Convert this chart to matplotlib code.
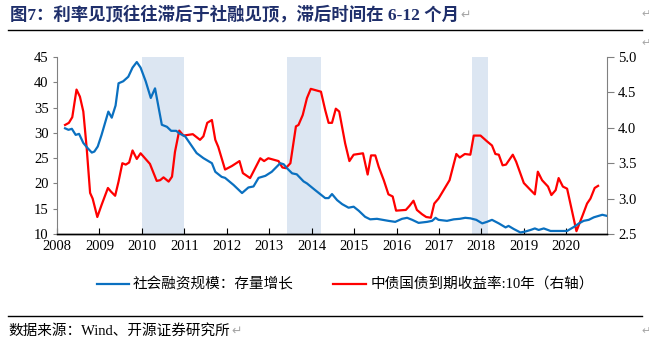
import matplotlib
matplotlib.use("Agg")
import matplotlib.pyplot as plt

plt.rcParams['font.family'] = ['Noto Sans CJK SC', 'DejaVu Sans']

# Social financing stock growth, % (left axis)
tsf_year = [2008.19, 2008.27, 2008.35, 2008.44, 2008.52, 2008.62, 2008.72, 2008.82, 2008.88, 2008.96,
            2009.05, 2009.21, 2009.29, 2009.38, 2009.45, 2009.56, 2009.68, 2009.78, 2009.88, 2009.97,
            2010.09, 2010.21, 2010.31, 2010.47, 2010.59, 2010.69, 2010.81, 2010.88, 2011.02, 2011.29,
            2011.45, 2011.65, 2011.73, 2011.88, 2011.96, 2012.16, 2012.36, 2012.51, 2012.63, 2012.75,
            2012.91, 2013.06, 2013.26, 2013.34, 2013.42, 2013.54, 2013.65, 2013.81, 2013.89, 2014.08,
            2014.32, 2014.40, 2014.48, 2014.60, 2014.72, 2014.87, 2014.99, 2015.11, 2015.26, 2015.38,
            2015.54, 2015.81, 2015.97, 2016.13, 2016.25, 2016.37, 2016.52, 2016.72, 2016.84, 2016.92,
            2016.99, 2017.19, 2017.35, 2017.49, 2017.62, 2017.74, 2017.88, 2018.02, 2018.13, 2018.25,
            2018.41, 2018.57, 2018.64, 2018.76, 2018.92, 2019.04, 2019.16, 2019.26, 2019.35, 2019.47,
            2019.63, 2019.82, 2020.02, 2020.18, 2020.30, 2020.41, 2020.53, 2020.65, 2020.77, 2020.85,
            2020.95]
tsf_growth = [30.9, 30.6, 30.8, 29.6, 29.8, 28.0, 27.0, 26.1, 26.3, 27.3,
              29.6, 34.2, 33.0, 35.4, 39.8, 40.2, 41.1, 42.9, 44.0, 42.9,
              40.2, 36.9, 38.8, 31.6, 31.2, 30.4, 30.4, 29.9, 29.3, 26.0,
              25.0, 24.0, 22.3, 21.3, 21.1, 19.7, 18.1, 19.2, 19.4, 21.1,
              21.5, 22.3, 24.0, 23.8, 23.0, 22.0, 21.8, 20.4, 20.0, 18.7,
              17.1, 17.1, 17.9, 16.7, 15.9, 15.2, 15.4, 14.6, 13.4, 12.9,
              13.0, 12.6, 12.4, 13.0, 13.2, 12.8, 12.2, 12.4, 12.6, 13.2,
              12.8, 12.6, 12.9, 13.0, 13.2, 13.1, 12.8, 12.1, 12.4, 12.8,
              12.1, 11.3, 11.6, 11.0, 10.3, 10.5, 10.8, 11.1, 10.8, 11.1,
              10.6, 10.6, 10.6, 11.4, 12.1, 12.6, 12.8, 13.3, 13.6, 13.8,
              13.6]

# 10-year government bond yield, % (right axis)
bond_year = [2008.19, 2008.28, 2008.36, 2008.46, 2008.54, 2008.62, 2008.70, 2008.78, 2008.84, 2008.95,
             2009.05, 2009.20, 2009.27, 2009.37, 2009.45, 2009.54, 2009.62, 2009.70, 2009.78, 2009.88,
             2009.97, 2010.19, 2010.35, 2010.43, 2010.51, 2010.63, 2010.71, 2010.78, 2010.88, 2010.98,
             2011.20, 2011.37, 2011.45, 2011.54, 2011.65, 2011.73, 2011.80, 2011.96, 2012.12, 2012.30,
             2012.38, 2012.55, 2012.67, 2012.79, 2012.88, 2012.98, 2013.22, 2013.31, 2013.39, 2013.50,
             2013.63, 2013.69, 2013.79, 2013.89, 2013.98, 2014.22, 2014.32, 2014.40, 2014.48, 2014.57,
             2014.65, 2014.79, 2014.89, 2014.99, 2015.21, 2015.32, 2015.40, 2015.50, 2015.58, 2015.70,
             2015.81, 2015.91, 2015.99, 2016.22, 2016.31, 2016.40, 2016.48, 2016.60, 2016.70, 2016.81,
             2016.89, 2016.99, 2017.25, 2017.41, 2017.49, 2017.61, 2017.74, 2017.82, 2017.98, 2018.13,
             2018.25, 2018.33, 2018.41, 2018.50, 2018.58, 2018.74, 2018.82, 2019.00, 2019.16, 2019.26,
             2019.33, 2019.43, 2019.57, 2019.65, 2019.75, 2019.82, 2019.92, 2020.02, 2020.24, 2020.39,
             2020.49, 2020.57, 2020.67, 2020.75]
bond_yield = [4.04, 4.07, 4.15, 4.54, 4.44, 4.23, 3.71, 3.08, 3.00, 2.74,
              2.91, 3.15, 3.10, 3.04, 3.24, 3.50, 3.48, 3.51, 3.68, 3.56,
              3.64, 3.49, 3.25, 3.26, 3.30, 3.24, 3.31, 3.66, 3.96, 3.89,
              3.91, 3.83, 3.88, 4.07, 4.11, 3.83, 3.73, 3.41, 3.46, 3.53,
              3.36, 3.29, 3.43, 3.57, 3.53, 3.57, 3.53, 3.44, 3.43, 3.50,
              4.02, 4.04, 4.18, 4.42, 4.55, 4.51, 4.25, 4.07, 4.07, 4.27,
              4.23, 3.78, 3.53, 3.62, 3.64, 3.34, 3.61, 3.61, 3.45, 3.26,
              3.06, 3.03, 2.83, 2.84, 2.90, 2.97, 2.84, 2.78, 2.74, 2.73,
              2.93, 3.00, 3.26, 3.63, 3.58, 3.63, 3.62, 3.89, 3.89, 3.81,
              3.75, 3.63, 3.62, 3.47, 3.48, 3.62, 3.52, 3.22, 3.12, 3.06,
              3.38, 3.26, 3.17, 3.05, 3.12, 3.29, 3.17, 3.14, 2.54, 2.77,
              2.93, 3.00, 3.15, 3.18]

# Periods where the yield peak lags the financing peak
shade_start = [2010.0, 2013.42, 2017.79]
shade_end = [2011.0, 2014.22, 2018.16]

year_ticks = list(range(2008, 2021))
left_ticks = [10, 15, 20, 25, 30, 35, 40, 45]
right_ticks = [2.5, 3.0, 3.5, 4.0, 4.5, 5.0]

title = "图7：利率见顶往往滞后于社融见顶，滞后时间在 6-12 个月"
label_tsf = "社会融资规模：存量增长"
label_bond = "中债国债到期收益率:10年（右轴）"
source = "数据来源：Wind、开源证券研究所"
para_mark = "↵"

BLUE = "#0a70c0"
RED = "#ff0000"
SHADE = "#dce6f2"
MARK = "#a6a6a6"
SERIF = ["Liberation Serif", "DejaVu Serif"]
MIXED = ["Liberation Serif", "Noto Sans CJK SC", "DejaVu Sans"]

fig = plt.figure(figsize=(6.49, 3.50), dpi=100)
ax = fig.add_axes([57 / 649, 1 - 234 / 350, (607 - 57) / 649, (234 - 57) / 350])
ax2 = ax.twinx()
# left-axis axes sits on top (transparent), right-axis axes underneath holds the shading
ax.set_zorder(2)
ax2.set_zorder(1)
ax.patch.set_visible(False)
ax2.patch.set_visible(False)

for s, e in zip(shade_start, shade_end):
    ax2.axvspan(s, e, color=SHADE, lw=0, zorder=0)

ax2.plot(bond_year, bond_yield, color=RED, lw=1.6, zorder=3)
ax.plot(tsf_year, tsf_growth, color=BLUE, lw=1.6, zorder=3)

ax.set_xlim(2008, 2020.96)
ax.set_ylim(10, 45)
ax2.set_ylim(2.5, 5.0)

ax.set_xticks(year_ticks)
ax.set_xticklabels([str(y) for y in year_ticks], fontfamily=SERIF, fontsize=10.5)
ax.set_yticks(left_ticks)
ax.set_yticklabels([str(v) for v in left_ticks], fontfamily=SERIF, fontsize=10.5)
ax2.set_yticks(right_ticks)
ax2.set_yticklabels([f"{v:.1f}" for v in right_ticks], fontfamily=SERIF, fontsize=10.5)

ax.tick_params(axis='x', direction='in', length=4, width=0.8, color='black', pad=4)
ax.tick_params(axis='y', direction='out', length=3, width=0.8, color='#808080', pad=3)
ax2.tick_params(axis='y', direction='out', length=5, width=0.8, color='#808080', pad=3)

for a in (ax, ax2):
    a.spines['top'].set_visible(False)
    a.spines['left'].set_color('#808080')
    a.spines['right'].set_color('#808080')
    a.spines['bottom'].set_color('black')
    a.spines['bottom'].set_linewidth(1.0)
ax2.spines['left'].set_visible(False)
ax.spines['right'].set_visible(False)

# Title with its rule
title_txt = fig.text(10 / 649, 1 - 15 / 350, title, fontsize=12.5, fontweight='bold',
                     color='#1f2f6b', va='center', ha='left', family=MIXED)
fig.add_artist(plt.Line2D([8 / 649, 642 / 649], [1 - 29.5 / 350] * 2, color='black', lw=1.0))

# Legend
ly = 1 - 284 / 350
fig.add_artist(plt.Line2D([97 / 649, 129 / 649], [ly, ly], color=BLUE, lw=1.6))
fig.text(133 / 649, ly, label_tsf, fontsize=10.5, va='center', ha='left', family=MIXED)
fig.add_artist(plt.Line2D([333 / 649, 366 / 649], [ly, ly], color=RED, lw=1.6))
fig.text(371 / 649, ly, label_bond, fontsize=10.5, va='center', ha='left', family=MIXED)

# Source line
fig.add_artist(plt.Line2D([8 / 649, 642 / 649], [1 - 316 / 350] * 2, color='black', lw=1.0))
source_txt = fig.text(8 / 649, 1 - 331 / 350, source, fontsize=10.5, color='black',
                      va='center', ha='left', family=MIXED)

# Paragraph marks
for txt in (title_txt, source_txt):
    fig.add_artist(plt.Annotation(para_mark, xy=(1, 0.5), xycoords=txt, xytext=(1, 0),
                                  textcoords='offset points', va='center', ha='left',
                                  fontsize=9, color=MARK, family=["DejaVu Sans"],
                                  annotation_clip=False))
for yy in (14, 43, 331):
    fig.text(641 / 649, 1 - yy / 350, para_mark, fontsize=8, color=MARK, va='center',
             ha='left', family=["DejaVu Sans"])

fig.savefig("out.png", dpi=100)
